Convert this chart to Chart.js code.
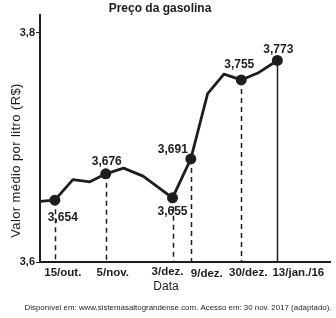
<!DOCTYPE html>
<html>
<head>
<meta charset="utf-8">
<script src="https://cdn.jsdelivr.net/npm/chart.js@4"></script>
<style>
html,body{margin:0;padding:0;background:#fff;}
#wrap{width:336px;height:318px;position:relative;}
</style>
</head>
<body>
<div id="wrap"><canvas id="c" width="336" height="318"></canvas></div>
<script>
// ---- data ----
const lineDays   = [-6, 0, 7.3, 14.2, 20.6, 27.8, 35.7, 47.6, 55, 61.8, 68.4, 75.4, 82.1, 90];
const lineValues = [3.653, 3.654, 3.672, 3.670, 3.677, 3.682, 3.675, 3.656, 3.690, 3.747, 3.764, 3.759, 3.765, 3.776];
const markerDays   = [0, 20.6, 47.6, 55, 75.4, 90];
const markerValues = [3.654, 3.677, 3.656, 3.690, 3.759, 3.776];
const markerLabels = ['3,654', '3,676', '3,655', '3,691', '3,755', '3,773'];
const tickDays   = [0, 20.6, 47.6, 55, 75.4, 90];
const tickLabels = ['15/out.', '5/nov.', '3/dez.', '9/dez.', '30/dez.', '13/jan./16'];
const yTickValues = [3.6, 3.8];
const yTickLabels = ['3,6', '3,8'];
const titleText = 'Preço da gasolina';
const yTitleText = 'Valor médio por litro (R$)';
const xTitleText = 'Data';
const sourceText = 'Disponível em: www.sistemasaltograndense.com. Acesso em: 30 nov. 2017 (adaptado).';

// ---- styles (layout only) ----
const INK = '#1e1e1e';
const FONT = '"Liberation Sans", Arial, sans-serif';
const labelOffsets = [[8, 18], [1, -12], [0, 14], [-18, -9], [-2, -15], [1, -11]];
const tickLabelOffsets = [[8, 11], [7, 11], [-5, 9.5], [16, 11.5], [7, 11], [21, 11]];
const solidLine = [false, false, false, false, false, true];

const overlay = {
  id: 'overlay',
  beforeDatasetsDraw(chart) {
    const {ctx, scales: {x, y}} = chart;
    ctx.save();
    ctx.strokeStyle = INK;
    ctx.lineWidth = 1.5;
    markerDays.forEach((d, i) => {
      const px = Math.round(x.getPixelForValue(d)) + 0.5;
      ctx.setLineDash(solidLine[i] ? [] : [5, 4]);
      ctx.beginPath();
      ctx.moveTo(px, y.getPixelForValue(markerValues[i]));
      ctx.lineTo(px, y.bottom);
      ctx.stroke();
    });
    ctx.restore();
  },
  afterDatasetsDraw(chart) {
    const {ctx, scales: {x, y}} = chart;
    ctx.save();
    ctx.fillStyle = INK;
    ctx.textAlign = 'center';
    ctx.textBaseline = 'middle';
    // value labels
    ctx.font = 'bold 12px ' + FONT;
    markerDays.forEach((d, i) => {
      ctx.fillText(markerLabels[i], x.getPixelForValue(d) + labelOffsets[i][0], y.getPixelForValue(markerValues[i]) + labelOffsets[i][1]);
    });
    // x tick labels
    ctx.font = 'bold 11.5px ' + FONT;
    tickDays.forEach((d, i) => {
      ctx.fillText(tickLabels[i], x.getPixelForValue(d) + tickLabelOffsets[i][0], y.bottom + tickLabelOffsets[i][1]);
    });
    // title
    ctx.font = 'bold 12px ' + FONT;
    ctx.fillText(titleText, 160, 9);
    // x title
    ctx.font = '12px ' + FONT;
    ctx.fillText(xTitleText, 166, 287);
    // source
    ctx.font = '8px ' + FONT;
    ctx.fillText(sourceText, 178, 308, 307);
    // y title
    ctx.save();
    ctx.translate(16.5, 160.5);
    ctx.rotate(-Math.PI / 2);
    ctx.font = '13px ' + FONT;
    try { ctx.letterSpacing = '0.4px'; } catch (e) {}
    ctx.fillText(yTitleText, 0, 0);
    ctx.restore();
    ctx.restore();
  }
};

new Chart(document.getElementById('c'), {
  type: 'scatter',
  data: {
    datasets: [
      {
        type: 'line',
        data: lineDays.map((d, i) => ({x: d, y: lineValues[i]})),
        borderColor: INK,
        borderWidth: 2.8,
        pointRadius: 0,
        tension: 0,
        borderJoinStyle: 'round',
        fill: false,
        order: 2
      },
      {
        type: 'scatter',
        data: markerDays.map((d, i) => ({x: d, y: markerValues[i]})),
        backgroundColor: INK,
        borderColor: INK,
        pointRadius: 5.5,
        borderWidth: 0,
        order: 1
      }
    ]
  },
  options: {
    responsive: false,
    animation: false,
    events: [],
    layout: {padding: {top: 15, right: 0, left: 0, bottom: 0}},
    plugins: {legend: {display: false}, tooltip: {enabled: false}, title: {display: false}},
    scales: {
      x: {
        type: 'linear',
        min: -6,
        max: 111.5,
        afterFit: s => { s.height = 56; },
        afterBuildTicks: s => { s.ticks = tickDays.map(v => ({value: v})); },
        grid: {display: false, drawTicks: false},
        border: {display: true, color: INK, width: 2},
        ticks: {display: false}
      },
      y: {
        type: 'linear',
        min: 3.6,
        max: 3.8157,
        afterFit: s => { s.width = 40; },
        afterBuildTicks: s => { s.ticks = yTickValues.map(v => ({value: v})); },
        grid: {display: true, drawOnChartArea: false, drawTicks: true, tickLength: 4, color: INK, lineWidth: 1},
        border: {display: true, color: INK, width: 2},
        ticks: {
          padding: 1,
          color: INK,
          font: {family: FONT, size: 11, weight: 'bold'},
          callback: (v) => { const k = yTickValues.indexOf(v); return k >= 0 ? yTickLabels[k] : ''; }
        }
      }
    }
  },
  plugins: [overlay]
});
</script>
</body>
</html>
